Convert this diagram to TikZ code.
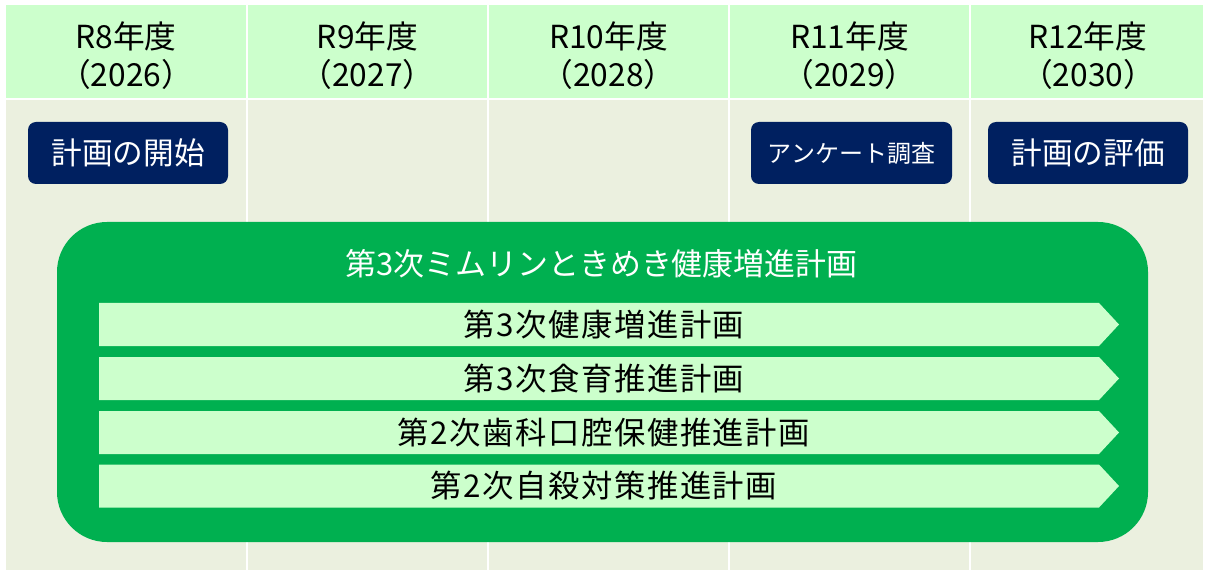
\documentclass[tikz,border=0pt]{standalone}
\usepackage{fontspec}
\setmainfont{Noto Sans CJK JP}
\newfontfamily\barfont[LetterSpace=5]{Noto Sans CJK JP}
\definecolor{hdr}{HTML}{CCFFCC}
\definecolor{cellbg}{HTML}{EBF0DF}
\definecolor{plangreen}{HTML}{00B050}
\definecolor{navy}{HTML}{002060}
\definecolor{barfill}{HTML}{CCFFCC}
\begin{document}
\begin{tikzpicture}[x=0.75pt,y=-0.75pt,
  hdrtext/.style={align=center,inner sep=0pt,font=\fontsize{23.8}{28.5}\selectfont,text=black},
  btn/.style={fill=navy,rounded corners=6pt,minimum height=46.5pt,inner sep=0pt,text=white,font=\fontsize{23}{26}\selectfont},
  bigbox/.style={fill=plangreen,rounded corners=37.5pt,minimum width=818.25pt,minimum height=240pt,inner sep=0pt},
  titletext/.style={text=white,inner sep=0pt,font=\fontsize{23.2}{26}\selectfont},
  bartext/.style={text=black,inner sep=0pt,font=\barfont\fontsize{23.5}{26}\selectfont},
  sep/.style={white,line width=1.5pt}
]
\useasboundingbox (0,0) rectangle (1205,573);
\fill[white] (0,0) rectangle (1205,573);
% table
\fill[hdr] (6,5) rectangle (1203,99);
\fill[cellbg] (6,99) rectangle (1203,570);
\foreach \xx in {246.5,488,729,970} \draw[sep] (\xx,5) -- (\xx,570);
\draw[sep] (6,99) -- (1203,99);
% header texts
\node[hdrtext] (h1) at (126,56) {R8年度\\（2026）};
\node[hdrtext] (h2) at (367.5,56) {R9年度\\（2027）};
\node[hdrtext] (h3) at (608.5,56) {R10年度\\（2028）};
\node[hdrtext] (h4) at (849.5,56) {R11年度\\（2029）};
\node[hdrtext] (h5) at (1088,56) {R12年度\\（2030）};
% buttons
\node[btn,minimum width=150pt] (b1) at (128,153) {計画の開始};
\node[btn,minimum width=150.75pt,font=\fontsize{18}{22}\selectfont] (b2) at (851.5,153) {アンケート調査};
\node[btn,minimum width=150pt] (b3) at (1088,153) {計画の評価};
% big plan box
\node[bigbox] (plan) at (602.5,382) {};
\node[titletext] (title) at (601.5,264) {第3次ミムリンときめき健康増進計画};
% bars
\foreach \tp in {303,357,411,464.5}{
  \fill[barfill] (99,\tp) -- (1099,\tp) -- (1119,\tp+21.5) -- (1099,\tp+43) -- (99,\tp+43) -- cycle;
}
\node[bartext] (p1) at (604,324.5) {第3次健康増進計画};
\node[bartext] (p2) at (604,378.5) {第3次食育推進計画};
\node[bartext] (p3) at (604,432.5) {第2次歯科口腔保健推進計画};
\node[bartext] (p4) at (604,486) {第2次自殺対策推進計画};
\end{tikzpicture}
\end{document}
